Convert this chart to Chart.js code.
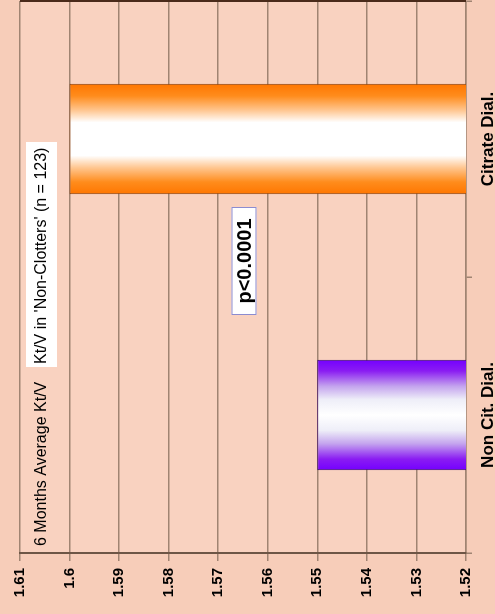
<!DOCTYPE html>
<html>
<head>
<meta charset="utf-8">
<script src="https://cdn.jsdelivr.net/npm/chart.js@4.4.1/dist/chart.umd.min.js"></script>
<style>
  html, body { margin: 0; padding: 0; background: #f7cdb9; overflow: hidden; }
  /* chart is laid out landscape and turned a quarter to the left */
  #wrap {
    position: absolute; left: 0; top: 0;
    width: 614px; height: 495px;
    transform-origin: 0 0;
    transform: translate(0, 614px) rotate(-90deg);
  }
</style>
</head>
<body>
<div id="wrap"><canvas id="ktvChart" width="614" height="495"></canvas></div>
<script>
const categories = ['Non Cit. Dial.', 'Citrate Dial.'];
const ktvValues = [1.55, 1.60];
const axisTicks = [1.52, 1.53, 1.54, 1.55, 1.56, 1.57, 1.58, 1.59, 1.60, 1.61];
const axisTickLabels = ['1.52', '1.53', '1.54', '1.55', '1.56', '1.57', '1.58', '1.59', '1.6', '1.61'];
const titleText = '6 Months Average Kt/V';
const subtitleText = "Kt/V in 'Non-Clotters' (n = 123)";
const pValueText = 'p<0.0001';

const barEdgeColors = ['#7a00ff', '#ff7a00'];
const barBorderColors = ['#3c0a70', '#8a4210'];

Chart.defaults.font.family = '"Liberation Sans", Arial, Helvetica, sans-serif';
Chart.defaults.color = '#000';

// tube-like shading across each bar: dark edges, white middle
function barGradient(context) {
    const chart = context.chart;
    const xScale = chart.scales.x;
    const i = context.dataIndex;
    if (!chart.chartArea || !xScale) return barEdgeColors[i];
    const center = xScale.getPixelForValue(i);
    const step = Math.abs(xScale.getPixelForValue(1) - xScale.getPixelForValue(0));
    const half = step * 0.4 / 2;
    const g = chart.ctx.createLinearGradient(center - half, 0, center + half, 0);
    if (i === 0) {
        g.addColorStop(0, '#7400ff');
        g.addColorStop(0.1, '#8a1cf2');
        g.addColorStop(0.24, '#c4a4ee');
        g.addColorStop(0.36, '#eeeef8');
        g.addColorStop(0.5, '#ffffff');
        g.addColorStop(0.64, '#eeeef8');
        g.addColorStop(0.76, '#c4a4ee');
        g.addColorStop(0.9, '#8a1cf2');
        g.addColorStop(1, '#7400ff');
    } else {
        g.addColorStop(0, '#ff7600');
        g.addColorStop(0.11, '#ff8c1c');
        g.addColorStop(0.24, '#ffc690');
        g.addColorStop(0.35, '#ffffff');
        g.addColorStop(0.65, '#ffffff');
        g.addColorStop(0.76, '#ffc690');
        g.addColorStop(0.89, '#ff8c1c');
        g.addColorStop(1, '#ff7600');
    }
    return g;
}

const plotBackground = {
    id: 'plotBackground',
    beforeDraw(chart) {
        const { ctx, chartArea: a } = chart;
        ctx.save();
        ctx.fillStyle = '#f9d2c0';
        ctx.fillRect(a.left, a.top, a.right - a.left, a.bottom - a.top);
        ctx.restore();
    },
    afterDraw(chart) {
        const { ctx, chartArea: a } = chart;
        ctx.save();
        // dark frame line on the far side of the plot
        ctx.strokeStyle = '#4a2a1a';
        ctx.lineWidth = 2;
        ctx.beginPath();
        ctx.moveTo(a.right, a.top);
        ctx.lineTo(a.right, a.bottom);
        ctx.stroke();
        ctx.restore();
    }
};

const textBoxes = {
    id: 'textBoxes',
    afterDraw(chart) {
        const { ctx, chartArea: a } = chart;
        ctx.save();
        ctx.textBaseline = 'middle';

        ctx.font = '16px "Liberation Sans", Arial, sans-serif';
        ctx.fillStyle = '#000';
        ctx.textAlign = 'left';
        ctx.fillText(titleText, a.left + 7, a.top + 22);

        ctx.fillStyle = '#ffffff';
        ctx.fillRect(a.left + 186, a.top + 6, 225, 31);
        ctx.fillStyle = '#000';
        ctx.fillText(subtitleText, a.left + 189, a.top + 22);

        // significance label between the bars
        const xScale = chart.scales.x;
        const yScale = chart.scales.y;
        const cx = xScale.getPixelForValue(0.5) + 16;
        const cy = yScale.getPixelForValue(1.5648);
        ctx.fillStyle = '#ffffff';
        ctx.fillRect(cx - 54, cy - 12.5, 108, 25);
        ctx.strokeStyle = '#8c8cd0';
        ctx.lineWidth = 1;
        ctx.strokeRect(cx - 54 + 0.5, cy - 12.5 + 0.5, 107, 24);
        ctx.fillStyle = '#000';
        ctx.textAlign = 'center';
        ctx.font = 'bold 20px "Liberation Sans", Arial, sans-serif';
        ctx.fillText(pValueText, cx, cy + 1);
        ctx.restore();
    }
};

new Chart(document.getElementById('ktvChart'), {
    type: 'bar',
    data: {
        labels: categories,
        datasets: [{
            label: 'Kt/V',
            data: ktvValues,
            backgroundColor: barGradient,
            borderColor: barBorderColors,
            borderWidth: 1,
            barPercentage: 0.4,
            categoryPercentage: 1
        }]
    },
    options: {
        responsive: false,
        animation: false,
        devicePixelRatio: 1,
        layout: { padding: { top: 20, right: 1, left: 0, bottom: 0 } },
        plugins: {
            legend: { display: false },
            tooltip: { enabled: false }
        },
        scales: {
            x: {
                afterFit: scale => { scale.height = 29; },
                grid: {
                    drawOnChartArea: false,
                    tickLength: 6,
                    color: '#a08472',
                    lineWidth: 1.5
                },
                border: { color: '#a08472', width: 1.5 },
                ticks: {
                    padding: 6,
                    font: { size: 17, weight: 'bold' }
                }
            },
            y: {
                min: 1.52,
                max: 1.61,
                afterFit: scale => { scale.width = 61; },
                afterBuildTicks: scale => {
                    scale.ticks = axisTicks.map(value => ({ value }));
                },
                grid: {
                    color: '#a08472',
                    lineWidth: 1.5,
                    tickLength: 8
                },
                border: { color: '#6e5646', width: 2 },
                ticks: {
                    padding: 7,
                    font: { size: 15, weight: 'bold' },
                    callback: (value, index) => axisTickLabels[index]
                }
            }
        }
    },
    plugins: [plotBackground, textBoxes]
});
</script>
</body>
</html>
